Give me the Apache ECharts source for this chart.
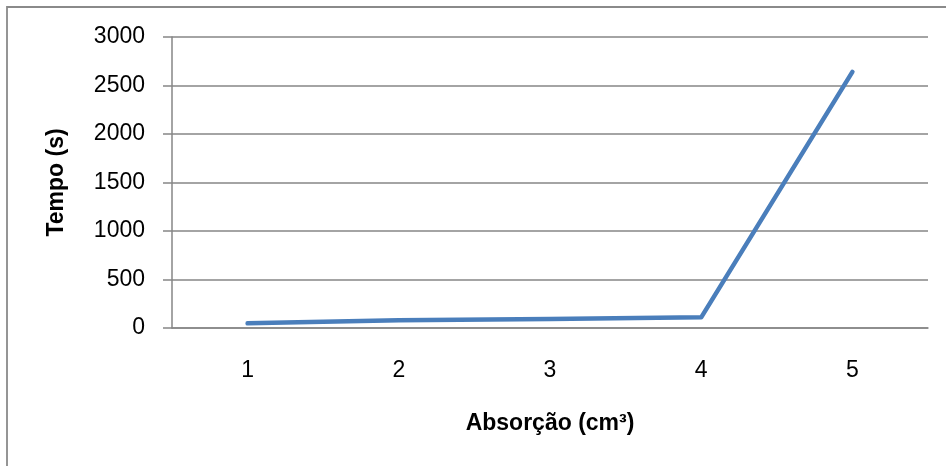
<!DOCTYPE html>
<html>
<head>
<meta charset="utf-8">
<script src="https://cdn.jsdelivr.net/npm/echarts@6/dist/echarts.min.js"></script>
<style>
  html, body { margin: 0; padding: 0; background: #ffffff; }
  #chart { width: 946px; height: 466px; }
</style>
</head>
<body>
<div id="chart"></div>
<script>
// Absorption categories and measured times
const categories = ['1', '2', '3', '4', '5'];
const tempo = [48, 80, 93, 110, 2640];
const yTicks = { min: 0, max: 3000, interval: 500 };

const font = '"Liberation Sans", Arial, sans-serif';
const gridGray = '#868686';

const chart = echarts.init(document.getElementById('chart'), null, { renderer: 'canvas' });
chart.setOption({
  backgroundColor: '#ffffff',
  animation: false,
  graphic: [{
    type: 'rect',
    shape: { x: 7, y: 7, width: 1000, height: 1000 },
    style: { fill: 'none', stroke: '#8a8a8a', lineWidth: 1.8 },
    silent: true
  }],
  grid: { left: 172, right: 18, top: 37, bottom: 138, containLabel: false },
  xAxis: {
    type: 'category',
    data: categories,
    boundaryGap: true,
    name: 'Absorção (cm³)',
    nameLocation: 'middle',
    nameGap: 84,
    nameTextStyle: { fontFamily: font, fontSize: 23, fontWeight: 'bold', color: '#000000' },
    axisLine: { show: true, lineStyle: { color: gridGray, width: 1.5 } },
    axisTick: { show: false },
    axisLabel: { fontFamily: font, fontSize: 23, color: '#000000', margin: 31 },
    splitLine: { show: false }
  },
  yAxis: {
    type: 'value',
    min: yTicks.min,
    max: yTicks.max,
    interval: yTicks.interval,
    name: 'Tempo (s)',
    nameLocation: 'middle',
    nameRotate: 90,
    nameGap: 104,
    nameTextStyle: { fontFamily: font, fontSize: 23, fontWeight: 'bold', color: '#000000' },
    axisLine: { show: true, lineStyle: { color: gridGray, width: 1.5 } },
    axisTick: { show: true, inside: false, length: 9, lineStyle: { color: gridGray, width: 1.5 } },
    axisLabel: {
      fontFamily: font, fontSize: 23, color: '#000000', margin: 27,
      formatter: (v) => String(v)
    },
    splitLine: { show: true, lineStyle: { color: gridGray, width: 1.5 } }
  },
  series: [{
    type: 'line',
    data: tempo,
    showSymbol: false,
    symbol: 'none',
    lineStyle: { color: '#4a7ebb', width: 4.5, cap: 'round', join: 'round' },
    itemStyle: { color: '#4a7ebb' }
  }]
});
</script>
</body>
</html>
